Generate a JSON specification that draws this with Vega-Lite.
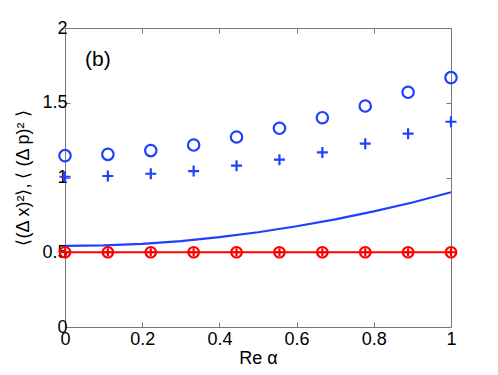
{
  "$schema": "https://vega.github.io/schema/vega-lite/v6.json",
  "width": 386,
  "height": 299,
  "autosize": {"type": "none"},
  "padding": {"left": 65, "top": 28, "right": 47, "bottom": 48},
  "background": "white",
  "config": {
    "view": {"stroke": "#777777", "strokeWidth": 1},
    "font": "Liberation Sans",
    "axis": {
      "domain": false,
      "grid": false,
      "tickColor": "#777777",
      "tickSize": -5,
      "tickWidth": 1,
      "labelFont": "Liberation Sans",
      "labelFontSize": 18,
      "labelColor": "#000000",
      "titleFont": "Liberation Sans",
      "titleFontSize": 18,
      "titleFontWeight": "normal",
      "titleColor": "#000000"
    }
  },
  "datasets": {
    "pts": [
      {"x": 0.0, "y": 1.146, "series": "blue", "marker": "circle"},
      {"x": 0.1111, "y": 1.155, "series": "blue", "marker": "circle"},
      {"x": 0.2222, "y": 1.18, "series": "blue", "marker": "circle"},
      {"x": 0.3333, "y": 1.217, "series": "blue", "marker": "circle"},
      {"x": 0.4444, "y": 1.271, "series": "blue", "marker": "circle"},
      {"x": 0.5556, "y": 1.329, "series": "blue", "marker": "circle"},
      {"x": 0.6667, "y": 1.4, "series": "blue", "marker": "circle"},
      {"x": 0.7778, "y": 1.478, "series": "blue", "marker": "circle"},
      {"x": 0.8889, "y": 1.57, "series": "blue", "marker": "circle"},
      {"x": 1.0, "y": 1.668, "series": "blue", "marker": "circle"},
      {"x": 0.0, "y": 1.005, "series": "blue", "marker": "plus"},
      {"x": 0.1111, "y": 1.01, "series": "blue", "marker": "plus"},
      {"x": 0.2222, "y": 1.025, "series": "blue", "marker": "plus"},
      {"x": 0.3333, "y": 1.043, "series": "blue", "marker": "plus"},
      {"x": 0.4444, "y": 1.079, "series": "blue", "marker": "plus"},
      {"x": 0.5556, "y": 1.119, "series": "blue", "marker": "plus"},
      {"x": 0.6667, "y": 1.168, "series": "blue", "marker": "plus"},
      {"x": 0.7778, "y": 1.226, "series": "blue", "marker": "plus"},
      {"x": 0.8889, "y": 1.293, "series": "blue", "marker": "plus"},
      {"x": 1.0, "y": 1.373, "series": "blue", "marker": "plus"},
      {"x": 0.0, "y": 0.5, "series": "red", "marker": "circle"},
      {"x": 0.1111, "y": 0.5, "series": "red", "marker": "circle"},
      {"x": 0.2222, "y": 0.5, "series": "red", "marker": "circle"},
      {"x": 0.3333, "y": 0.5, "series": "red", "marker": "circle"},
      {"x": 0.4444, "y": 0.5, "series": "red", "marker": "circle"},
      {"x": 0.5556, "y": 0.5, "series": "red", "marker": "circle"},
      {"x": 0.6667, "y": 0.5, "series": "red", "marker": "circle"},
      {"x": 0.7778, "y": 0.5, "series": "red", "marker": "circle"},
      {"x": 0.8889, "y": 0.5, "series": "red", "marker": "circle"},
      {"x": 1.0, "y": 0.5, "series": "red", "marker": "circle"},
      {"x": 0.0, "y": 0.5, "series": "red", "marker": "plus"},
      {"x": 0.1111, "y": 0.5, "series": "red", "marker": "plus"},
      {"x": 0.2222, "y": 0.5, "series": "red", "marker": "plus"},
      {"x": 0.3333, "y": 0.5, "series": "red", "marker": "plus"},
      {"x": 0.4444, "y": 0.5, "series": "red", "marker": "plus"},
      {"x": 0.5556, "y": 0.5, "series": "red", "marker": "plus"},
      {"x": 0.6667, "y": 0.5, "series": "red", "marker": "plus"},
      {"x": 0.7778, "y": 0.5, "series": "red", "marker": "plus"},
      {"x": 0.8889, "y": 0.5, "series": "red", "marker": "plus"},
      {"x": 1.0, "y": 0.5, "series": "red", "marker": "plus"}
    ],
    "lines": [
      {"x": 0.0, "y": 0.542, "series": "blue"},
      {"x": 0.1, "y": 0.546, "series": "blue"},
      {"x": 0.2, "y": 0.556, "series": "blue"},
      {"x": 0.3, "y": 0.575, "series": "blue"},
      {"x": 0.4, "y": 0.601, "series": "blue"},
      {"x": 0.5, "y": 0.634, "series": "blue"},
      {"x": 0.6, "y": 0.674, "series": "blue"},
      {"x": 0.7, "y": 0.72, "series": "blue"},
      {"x": 0.8, "y": 0.773, "series": "blue"},
      {"x": 0.9, "y": 0.833, "series": "blue"},
      {"x": 1.0, "y": 0.901, "series": "blue"},
      {"x": 0.0, "y": 0.5, "series": "red"},
      {"x": 1.0, "y": 0.5, "series": "red"}
    ],
    "label": [
      {"x": 0.052, "y": 1.786, "text": "(b)"}
    ]
  },
  "layer": [
    {
      "data": {"name": "lines"},
      "mark": {"type": "line", "strokeWidth": 2.2},
      "encoding": {
        "x": {
          "field": "x", "type": "quantitative",
          "scale": {"domain": [0, 1], "nice": false, "zero": false},
          "axis": {"orient": "bottom", "values": [0, 0.2, 0.4, 0.6, 0.8, 1], "labelExpr": "datum.value + ''", "labelPadding": 8, "title": "Re α", "titlePadding": 1, "labelFlush": false}
        },
        "y": {
          "field": "y", "type": "quantitative",
          "scale": {"domain": [0, 2], "nice": false, "zero": false},
          "axis": {"orient": "left", "values": [0, 0.5, 1, 1.5, 2], "labelExpr": "datum.value + ''", "labelPadding": 3, "title": "⟨(Δ x)²⟩, ⟨ (Δ p)² ⟩", "titlePadding": 9, "labelFlush": false}
        },
        "color": {"field": "series", "type": "nominal", "scale": {"domain": ["blue", "red"], "range": ["#2040ff", "#ff0000"]}, "legend": null},
        "detail": {"field": "series"}
      }
    },
    {
      "data": {"name": "pts"},
      "transform": [{"filter": "datum.marker === 'circle'"}],
      "mark": {"type": "point", "shape": "circle", "filled": false, "strokeWidth": 2.2, "opacity": 1},
      "encoding": {
        "x": {
          "field": "x", "type": "quantitative",
          "axis": {"orient": "top", "values": [0, 0.2, 0.4, 0.6, 0.8, 1], "labels": false, "title": null}
        },
        "y": {
          "field": "y", "type": "quantitative",
          "axis": {"orient": "right", "values": [0, 0.5, 1, 1.5, 2], "labels": false, "title": null}
        },
        "color": {"field": "series", "type": "nominal", "scale": {"domain": ["blue", "red"], "range": ["#2040ff", "#ff0000"]}, "legend": null},
        "size": {"field": "series", "type": "nominal", "scale": {"domain": ["blue", "red"], "range": [130, 110]}, "legend": null}
      }
    },
    {
      "data": {"name": "pts"},
      "transform": [{"filter": "datum.marker === 'plus'"}],
      "mark": {"type": "point", "shape": "M-1,0L1,0M0,-1L0,1", "filled": false, "strokeWidth": 2.2, "opacity": 1},
      "encoding": {
        "x": {"field": "x", "type": "quantitative", "axis": null},
        "y": {"field": "y", "type": "quantitative", "axis": null},
        "color": {"field": "series", "type": "nominal", "scale": {"domain": ["blue", "red"], "range": ["#2040ff", "#ff0000"]}, "legend": null},
        "size": {"field": "series", "type": "nominal", "scale": {"domain": ["blue", "red"], "range": [121, 64]}, "legend": null}
      }
    },
    {
      "data": {"name": "label"},
      "mark": {"type": "text", "align": "left", "baseline": "middle", "fontSize": 21, "font": "Liberation Sans", "color": "#000000"},
      "encoding": {
        "x": {"field": "x", "type": "quantitative", "axis": null},
        "y": {"field": "y", "type": "quantitative", "axis": null},
        "text": {"field": "text"}
      }
    }
  ],
  "resolve": {"axis": {"x": "independent", "y": "independent"}, "scale": {"size": "independent"}}
}
